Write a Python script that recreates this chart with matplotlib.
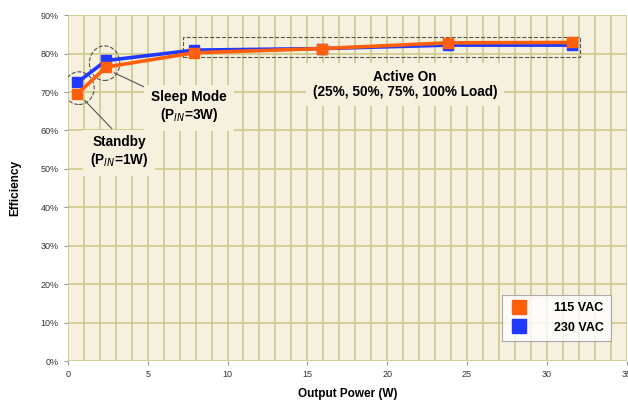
import numpy as np
import matplotlib
matplotlib.use('Agg')
import matplotlib.pyplot as plt
from matplotlib.patches import Ellipse, Rectangle
from matplotlib.lines import Line2D

plt.rcParams['font.family'] = ['Liberation Sans', 'DejaVu Sans']

# data
power = [0.6, 2.4, 7.9, 15.9, 23.8, 31.6]
eff_115 = [69.5, 76.5, 80.2, 81.3, 82.8, 82.9]
eff_230 = [72.5, 78.2, 80.9, 81.3, 82.2, 82.2]
series_names = ['115 VAC', '230 VAC']
yticks = np.arange(0, 100, 10)
xticks = np.arange(0, 40, 5)

bg = '#F6F0DE'
grid = '#D0CC90'
orange = '#FF5F0A'
blue = '#2038FF'

fig = plt.figure(figsize=(6.28, 4.09), dpi=100)
ax = fig.add_axes([0.108, 0.117, 0.89, 0.846])
ax.set_facecolor(bg)

ax.set_xlim(0, 35)
ax.set_ylim(0, 90)
ax.set_xticks(xticks)
ax.set_xticks(np.arange(0, 36, 1), minor=True)
ax.set_yticks(yticks)
ax.set_yticklabels(['%d%%' % v for v in yticks])
ax.grid(True, which='both', color=grid, linewidth=1.3, zorder=0)
ax.set_axisbelow(True)
ax.tick_params(which='minor', length=0)
ax.tick_params(which='major', labelsize=6.5, length=3, color='#999999', colors='#333333')
for s in ax.spines.values():
    s.set_visible(False)

ax.plot(power, eff_230, '-s', color=blue, lw=2.6, ms=7, label=series_names[1], zorder=4)
ax.plot(power, eff_115, '-s', color=orange, lw=2.6, ms=7, label=series_names[0], zorder=5)

# annotation shapes
ax.add_patch(Rectangle((7.2, 79.2), 24.9, 5.1, fill=False, ls='--', lw=0.8,
                       ec='#555555', zorder=3))
ax.add_patch(Ellipse((0.7, 71.0), 1.9, 8.5, fill=False, ls='--', lw=0.8,
                     ec='#555555', zorder=3))
ax.add_patch(Ellipse((2.3, 77.5), 1.9, 9.0, fill=False, ls='--', lw=0.8,
                     ec='#555555', zorder=3))
ax.plot([1.06, 2.75], [67.8, 60.5], color='#555555', lw=0.8, zorder=3)
ax.plot([2.9, 5.0], [75.0, 70.9], color='#555555', lw=0.8, zorder=3)

box = dict(facecolor=bg, edgecolor='none', pad=5)
ax.text(21.1, 72.0, 'Active On\n(25%, 50%, 75%, 100% Load)', ha='center', va='center',
        fontsize=9.8, fontweight='bold', linespacing=1.15, bbox=box, zorder=3)
ax.text(7.6, 66.2, 'Sleep Mode\n(P$_{IN}$=3W)', ha='center', va='center',
        fontsize=9.8, fontweight='bold', linespacing=1.15, bbox=box, zorder=3)
ax.text(3.2, 54.5, 'Standby\n(P$_{IN}$=1W)', ha='center', va='center',
        fontsize=9.8, fontweight='bold', linespacing=1.15, bbox=box, zorder=3)

handles = [Line2D([], [], ls='none', marker='s', ms=10, color=orange),
           Line2D([], [], ls='none', marker='s', ms=10, color=blue)]
leg = ax.legend(handles, series_names, loc='lower right', bbox_to_anchor=(0.983, 0.04),
                frameon=True, fancybox=False, edgecolor='#999999',
                handlelength=1.5, handletextpad=2.0, borderpad=0.6, labelspacing=0.6,
                prop={'weight': 'bold', 'size': 9})
leg.get_frame().set_linewidth(0.8)
leg.set_zorder(6)

ax.set_xlabel('Output Power (W)', fontsize=8.5, fontweight='bold', labelpad=6)
ax.set_ylabel('Efficiency', fontsize=8.5, fontweight='bold', labelpad=14)

fig.savefig('out.png', dpi=100)
